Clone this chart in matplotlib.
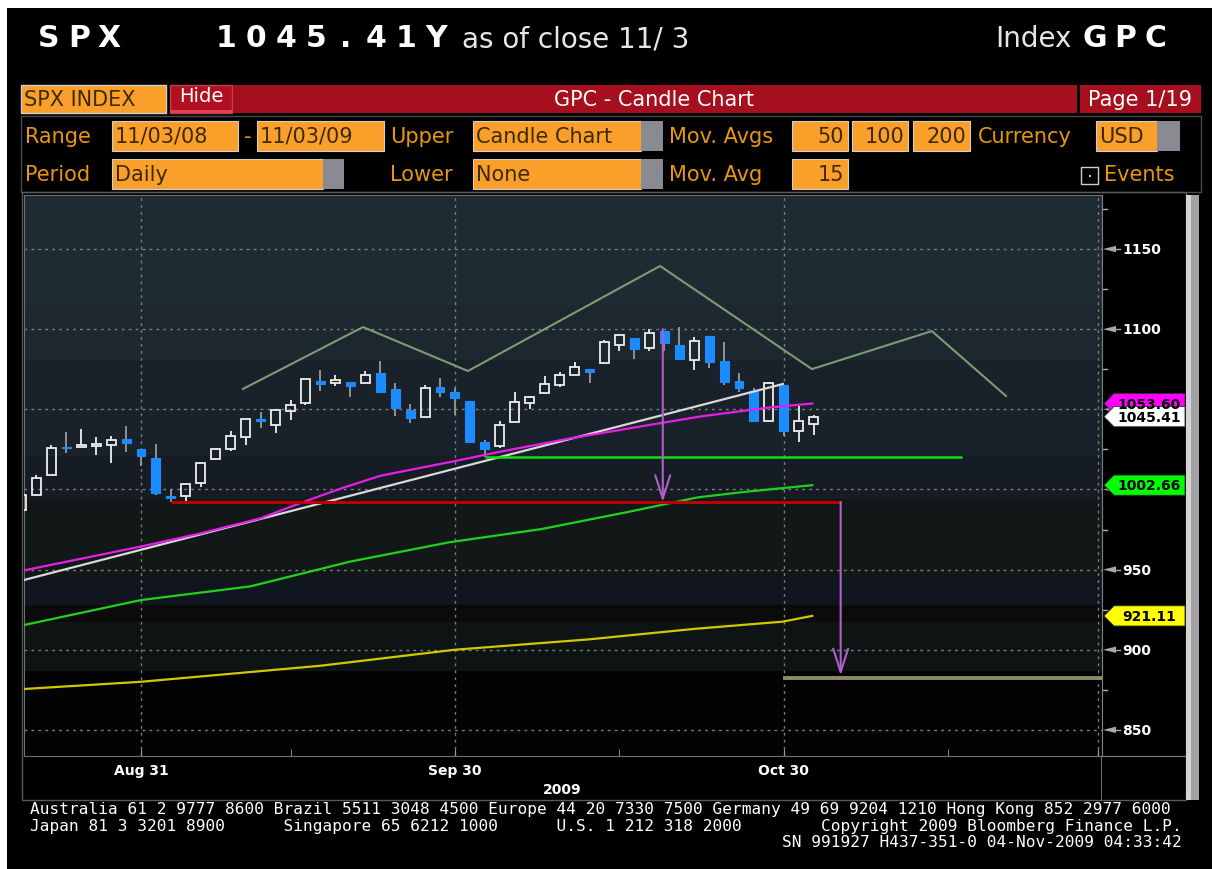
import matplotlib
matplotlib.use('Agg')
import matplotlib.pyplot as plt
from matplotlib.patches import Rectangle, Polygon

W, H = 1212, 870

# SPX daily candles, Aug 19 - Nov 3 2009 (trading-day index 0..53)
days = ['Aug 19', 'Aug 20', 'Aug 21', 'Aug 24', 'Aug 25', 'Aug 26', 'Aug 27', 'Aug 28',
        'Aug 31', 'Sep 1', 'Sep 2', 'Sep 3', 'Sep 4', 'Sep 8', 'Sep 9', 'Sep 10',
        'Sep 11', 'Sep 14', 'Sep 15', 'Sep 16', 'Sep 17', 'Sep 18', 'Sep 21', 'Sep 22',
        'Sep 23', 'Sep 24', 'Sep 25', 'Sep 28', 'Sep 29', 'Sep 30', 'Oct 1', 'Oct 2',
        'Oct 5', 'Oct 6', 'Oct 7', 'Oct 8', 'Oct 9', 'Oct 12', 'Oct 13', 'Oct 14',
        'Oct 15', 'Oct 16', 'Oct 19', 'Oct 20', 'Oct 21', 'Oct 22', 'Oct 23', 'Oct 26',
        'Oct 27', 'Oct 28', 'Oct 29', 'Oct 30', 'Nov 2', 'Nov 3']
opens = [986.9, 996.4, 1009.1, 1026.6, 1026.6, 1027.4, 1027.8, 1031.6,
         1025.2, 1019.5, 996.1, 996.1, 1003.8, 1018.7, 1025.1, 1033.0,
         1043.9, 1040.2, 1049.0, 1054.0, 1067.9, 1066.6, 1067.1, 1066.4,
         1072.7, 1062.6, 1049.5, 1045.4, 1063.7, 1061.0, 1054.9, 1029.7,
         1026.9, 1042.0, 1053.7, 1060.0, 1065.3, 1071.6, 1075.0, 1078.7,
         1090.4, 1094.7, 1088.2, 1098.6, 1090.4, 1081.0, 1095.6, 1080.4,
         1067.5, 1061.5, 1043.0, 1065.4, 1036.2, 1040.9]
highs = [999.6, 1008.9, 1027.6, 1035.8, 1037.8, 1032.5, 1033.3, 1039.5,
         1025.2, 1028.5, 1000.3, 1003.4, 1016.5, 1026.1, 1036.3, 1044.1,
         1048.2, 1049.7, 1056.0, 1068.8, 1074.8, 1071.5, 1067.3, 1073.8,
         1080.2, 1066.3, 1053.5, 1065.1, 1069.6, 1063.4, 1054.9, 1030.6,
         1042.6, 1060.6, 1058.0, 1070.7, 1073.2, 1079.5, 1075.3, 1093.2,
         1096.6, 1094.7, 1100.2, 1098.6, 1101.4, 1095.2, 1095.8, 1091.8,
         1072.5, 1063.3, 1066.8, 1065.4, 1052.2, 1046.4]
lows = [980.6, 996.4, 1009.1, 1022.5, 1026.2, 1021.6, 1016.2, 1023.1,
        1014.6, 996.3, 992.0, 992.3, 1001.7, 1018.7, 1024.0, 1028.0,
        1038.4, 1035.0, 1043.4, 1052.9, 1061.2, 1064.3, 1057.5, 1066.4,
        1060.4, 1045.9, 1041.2, 1045.4, 1057.8, 1046.5, 1029.5, 1020.0,
        1025.9, 1042.0, 1050.1, 1060.0, 1064.0, 1071.6, 1066.7, 1078.7,
        1086.4, 1081.5, 1086.5, 1086.2, 1080.8, 1074.3, 1075.5, 1065.2,
        1060.6, 1042.2, 1043.0, 1033.4, 1029.4, 1033.9]
closes = [996.5, 1007.4, 1026.1, 1025.6, 1028.0, 1028.1, 1031.0, 1028.9,
          1020.6, 998.0, 994.8, 1003.2, 1016.4, 1025.4, 1033.4, 1044.1,
          1042.7, 1049.3, 1052.6, 1068.8, 1065.5, 1068.3, 1064.7, 1071.7,
          1060.9, 1050.8, 1044.4, 1063.0, 1060.6, 1057.1, 1029.9, 1025.2,
          1040.5, 1054.7, 1057.6, 1065.5, 1071.5, 1076.2, 1073.2, 1092.0,
          1096.6, 1087.7, 1097.9, 1091.1, 1081.4, 1092.9, 1079.6, 1067.0,
          1063.4, 1042.6, 1066.1, 1036.2, 1042.9, 1045.41]

# moving averages, read at a few points (trading-day index, value)
ma50_x = [0.17, 8, 12, 16, 18.8, 21.5, 24, 26.7, 28.9, 32, 36.5, 40.9, 45.4, 49.9, 52.9]
ma50_y = [949.5, 964.4, 972.6, 982.0, 992.0, 1001.0, 1008.5, 1013.5, 1017.5, 1023.5,
          1031.5, 1038.5, 1045.5, 1051.0, 1053.6]
ma100_x = [0.17, 8, 15.3, 22, 28.6, 34.8, 40.6, 45.2, 48.3, 52.9]
ma100_y = [915.4, 931.0, 939.5, 955.0, 967.0, 975.3, 986.0, 995.0, 998.4, 1002.66]
ma200_x = [0.17, 8, 20, 29, 38, 45, 50.9, 52.9]
ma200_y = [875.5, 880.0, 890.0, 900.0, 906.5, 913.0, 917.5, 921.11]

# drawn studies
trend_x = [0.17, 50.94]
trend_y = [943.5, 1065.8]
hs_x = [14.82, 22.85, 29.87, 42.72, 52.88, 60.9, 65.86]
hs_y = [1062.7, 1101.3, 1073.9, 1139.4, 1075.1, 1098.8, 1058.3]
support = (1020.2, 31.0, 62.9)      # level, from, to
neckline = (992.2, 10.0, 54.8)
target = (882.4, 50.94, 72.28)
arrows = [(42.9, 1100.0, 992.2), (54.8, 992.2, 884.0)]  # x, from, to

last_close = 1045.41
x_major = [8, 29, 51, 72]
x_major_labels = ['Aug 31', 'Sep 30', 'Oct 30', '']
x_minor = [18, 40, 62]
y_labels_hidden = [1000, 1050]   # covered by the value tags

fig = plt.figure(figsize=(W / 100, H / 100), dpi=100)
fig.patch.set_facecolor('white')


def box(x0, y0, x1, y1, **kw):
    r = Rectangle((x0 / W, 1 - y1 / H), (x1 - x0) / W, (y1 - y0) / H,
                  transform=fig.transFigure, **kw)
    fig.add_artist(r)


def txt(x, y, s, **kw):
    fig.text(x / W, 1 - y / H, s, **kw)


def spaced(x0, y, s, pitch, **kw):
    # Bloomberg header font is monospaced and wide
    for k, ch in enumerate(s):
        txt(x0 + k * pitch + pitch / 2, y, ch, ha='center', va='baseline', **kw)


box(7, 9, W, H, facecolor='black', edgecolor='none', zorder=-10)

# header
spaced(34, 47, 'SPX', 30, color='white', fontsize=21.5, fontweight='bold')
spaced(211, 47, '1045.41Y', 30, color='white', fontsize=21.5, fontweight='bold')
txt(462, 47, 'as of close 11/ 3', color='#e6e6e6', fontsize=20, va='baseline')
txt(995, 47, 'Index', color='#e6e6e6', fontsize=20, va='baseline')
spaced(1080, 47, 'GPC', 30, color='white', fontsize=21.5, fontweight='bold')

# red menu bar
ORANGE = '#fa9f2a'
LBL = '#e8960f'
DARK = '#3d2a05'
RED = '#a50f1e'
GRAYBOX = '#8a8a92'
box(21, 86, 166, 114, facecolor=ORANGE, edgecolor='#d0d0d0', lw=1)
txt(24, 100, 'SPX INDEX', color=DARK, fontsize=15, va='center')
box(170, 86, 232, 114, facecolor='#b01020', edgecolor='#c04050', lw=1)
box(170, 111, 232, 114, facecolor='#e04050', edgecolor='none')
txt(201, 97, 'Hide', color='white', fontsize=14, ha='center', va='center')
box(233, 86, 1077, 114, facecolor=RED, edgecolor='none')
txt(654, 100, 'GPC - Candle Chart', color='white', fontsize=15, ha='center', va='center')
box(1080, 86, 1201, 114, facecolor=RED, edgecolor='none')
txt(1140, 100, 'Page 1/19', color='white', fontsize=15, ha='center', va='center')

# settings panel
box(21, 117, 1201, 193, facecolor='none', edgecolor='#4a4a4a', lw=1)
r1, r2 = 137, 175


def field(x0, x1, yc, s, gray_to=None, right=False):
    box(x0, yc - 15, x1, yc + 15, facecolor=ORANGE, edgecolor='#cfcfcf', lw=0.8)
    if gray_to:
        box(x1, yc - 15, gray_to, yc + 15, facecolor=GRAYBOX, edgecolor='none')
    if right:
        txt(x1 - 4, yc, s, color=DARK, fontsize=15, ha='right', va='center')
    else:
        txt(x0 + 3, yc, s, color=DARK, fontsize=15, va='center')


txt(25, r1, 'Range', color=LBL, fontsize=15, va='center')
field(112, 238, r1, '11/03/08')
txt(244, r1, '-', color=LBL, fontsize=15, va='center')
field(257, 384, r1, '11/03/09')
txt(390, r1, 'Upper', color=LBL, fontsize=15, va='center')
field(473, 641, r1, 'Candle Chart', gray_to=663)
txt(669, r1, 'Mov. Avgs', color=LBL, fontsize=15, va='center')
field(792, 848, r1, '50', right=True)
field(852, 908, r1, '100', right=True)
field(913, 970, r1, '200', right=True)
txt(978, r1, 'Currency', color=LBL, fontsize=15, va='center')
field(1096, 1157, r1, 'USD', gray_to=1180)

txt(25, r2, 'Period', color=LBL, fontsize=15, va='center')
field(112, 323, r2, 'Daily', gray_to=344)
txt(390, r2, 'Lower', color=LBL, fontsize=15, va='center')
field(473, 641, r2, 'None', gray_to=663)
txt(669, r2, 'Mov. Avg', color=LBL, fontsize=15, va='center')
field(792, 848, r2, '15', right=True)
box(1081, 168, 1098, 185, facecolor='none', edgecolor='#d0d0d0', lw=1)
box(1088.5, 175.5, 1090.5, 177.5, facecolor='#d0d0d0', edgecolor='none')
txt(1104, r2, 'Events', color=LBL, fontsize=15, va='center')

# chart frame and scrollbar
box(22, 193, 1186, 801, facecolor='none', edgecolor='#5a5a5a', lw=1)
box(1186, 196, 1191, 801, facecolor='#d4d4d4', edgecolor='none')
box(1191, 196, 1199, 801, facecolor='#a2a2a6', edgecolor='none')
box(1101, 757, 1102, 801, facecolor='#6a6a6a', edgecolor='none')

# main price panel
ax = fig.add_axes([24 / W, 1 - 757 / H, 1078 / W, 561 / H])
ax.set_xlim(0.174, 72.28)
ax.set_ylim(833.7, 1183.7)
ax.set_facecolor('#030303')

bands = [(1115, 1190, '#1f2b33'), (1081, 1115, '#1c272f'), (1021, 1081, '#19222a'),
         (994, 1021, '#151c23'), (945, 994, '#121818'), (928, 945, '#0f1620'),
         (917, 928, '#0b0b0b'), (887, 917, '#0e1314'), (820, 887, '#030303')]
for lo, hi, col in bands:
    ax.axhspan(lo, hi, color=col, zorder=0, lw=0)

ax.set_axisbelow(True)
ax.set_yticks(range(850, 1151, 50))
ax.set_xticks(x_major, x_major_labels)
ax.set_xticks(x_minor, minor=True)
ax.grid(True, which='major', color='#7c7c7c', linestyle=(0, (2, 3)), lw=1.0)
ax.tick_params(axis='y', length=0, labelleft=False)
ax.tick_params(axis='x', which='both', direction='in', color='#9a9a9a', length=5,
               pad=5, labelcolor='white', labelsize=10)
for lab in ax.get_xticklabels():
    lab.set_fontweight('bold')
for sp in ax.spines.values():
    sp.set_color('#707070')

# candles
for i, (o, h, l, c) in enumerate(zip(opens, highs, lows, closes)):
    up = c >= o
    b0, b1 = min(o, c), max(o, c)
    if b1 - b0 < 0.9:
        b1 = b0 + 0.9
    wick = '#eeeeee' if up else '#9a9a9a'
    ax.plot([i, i], [b1, h], color=wick, lw=1.3, zorder=3, solid_capstyle='butt')
    ax.plot([i, i], [l, b0], color=wick, lw=1.3, zorder=3, solid_capstyle='butt')
    if up:
        ax.add_patch(Rectangle((i - 0.3, b0), 0.6, b1 - b0, facecolor='none',
                               edgecolor='#eeeeee', lw=1.3, zorder=4))
    else:
        ax.add_patch(Rectangle((i - 0.3, b0), 0.6, b1 - b0, facecolor='#1a8cff',
                               edgecolor='#1a8cff', lw=0.8, zorder=4))

# studies
ax.plot(hs_x, hs_y, color='#7d9c74', lw=1.5, zorder=5)
ax.plot(ma200_x, ma200_y, color='#d2c800', lw=1.6, zorder=5)
ax.plot(ma100_x, ma100_y, color='#1ed21e', lw=1.6, zorder=5)
ax.plot(trend_x, trend_y, color='#d8d8d8', lw=1.6, zorder=5)
ax.plot(ma50_x, ma50_y, color='#e81ee8', lw=1.6, zorder=5)
ax.hlines(support[0], support[1], support[2], color='#10e010', lw=1.8, zorder=5)
ax.hlines(neckline[0], neckline[1], neckline[2], color='#c00000', lw=2.2, zorder=5)
ax.hlines(target[0], target[1], target[2], color='#8d8a6c', lw=2.8, zorder=5)
for ax_x, y0, y1 in arrows:
    ax.annotate('', xy=(ax_x, y1), xytext=(ax_x, y0),
                arrowprops=dict(arrowstyle='->,head_length=1.4,head_width=0.45',
                                color='#b060c8', lw=1.5, mutation_scale=12,
                                shrinkA=0, shrinkB=0), zorder=6)

# right price scale
axr = fig.add_axes([1102 / W, 1 - 757 / H, 84 / W, 561 / H])
axr.set_xlim(0, 84)
axr.set_ylim(833.7, 1183.7)
axr.set_facecolor('black')
axr.set_xticks([])
axr.set_yticks([])
for k, sp in axr.spines.items():
    sp.set_visible(k in ('left', 'bottom'))
    sp.set_color('#808080')

for v in range(850, 1176, 25):
    if v % 50 == 0:
        axr.add_patch(Polygon([(1, v), (14, v + 2.0), (14, v - 2.0)], closed=True,
                              facecolor='#a8a8a8', edgecolor='none'))
        axr.plot([14, 18], [v, v], color='#a8a8a8', lw=1)
        if v not in y_labels_hidden:
            axr.text(20, v, str(v), color='white', fontsize=10, fontweight='bold',
                     va='center', ha='left')
    else:
        axr.plot([1, 5], [v, v], color='#b0b0b0', lw=1)

tags = [(ma50_y[-1], '#ff00ff'), (last_close, 'white'),
        (ma100_y[-1], '#00ff00'), (ma200_y[-1], '#ffff00')]
for v, col in tags:
    hh = 6.3
    axr.add_patch(Polygon([(2, v), (12, v + hh), (83, v + hh), (83, v - hh), (12, v - hh)],
                          closed=True, facecolor=col, edgecolor='#303030', lw=0.6,
                          zorder=5))
    axr.text(47, v, f'{v:.2f}', color='black', fontsize=10, fontweight='bold',
             ha='center', va='center', zorder=6)

txt(562, 790, '2009', color='white', fontsize=10, fontweight='bold', ha='center', va='center')

# footer
MONO = 'DejaVu Sans Mono'
txt(30, 810, 'Australia 61 2 9777 8600 Brazil 5511 3048 4500 Europe 44 20 7330 7500 '
    'Germany 49 69 9204 1210 Hong Kong 852 2977 6000',
    color='white', family=MONO, fontsize=11.6, va='center')
txt(30, 827, 'Japan 81 3 3201 8900      Singapore 65 6212 1000      U.S. 1 212 318 2000',
    color='white', family=MONO, fontsize=11.6, va='center')
txt(1182, 827, 'Copyright 2009 Bloomberg Finance L.P.',
    color='white', family=MONO, fontsize=11.6, va='center', ha='right')
txt(1182, 843, 'SN 991927 H437-351-0 04-Nov-2009 04:33:42',
    color='white', family=MONO, fontsize=11.6, va='center', ha='right')

fig.savefig('out.png', dpi=100, facecolor=fig.get_facecolor())
